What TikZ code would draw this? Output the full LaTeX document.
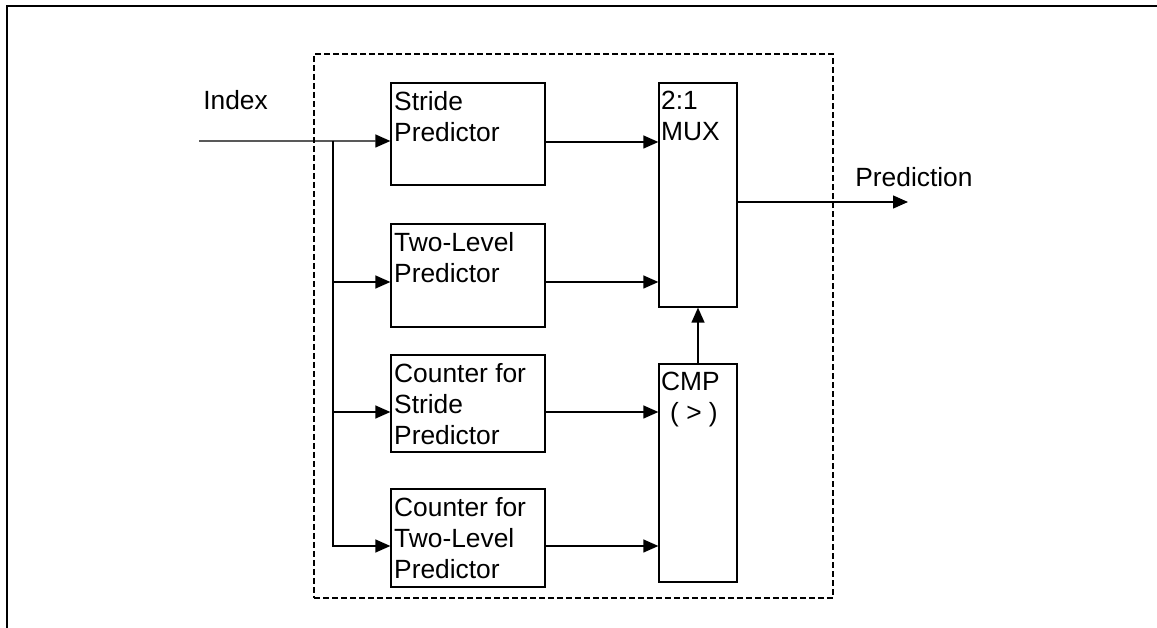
\documentclass[tikz,border=0pt]{standalone}
\usepackage{fontspec}
\setmainfont{Liberation Sans}
\usepackage{tikz}
\usetikzlibrary{arrows.meta, positioning}

\begin{document}
\begin{tikzpicture}[
  x=0.02cm, y=-0.02cm,
  font=\fontsize{15pt}{17.6pt}\selectfont,
  blk/.style={rectangle, draw, line width=0.75pt, minimum width=3.08cm, inner sep=0pt},
  sel/.style={rectangle, draw, line width=0.75pt, minimum width=1.56cm, inner sep=0pt},
  blktext/.style={anchor=north west, align=left, inner xsep=0.07cm, inner ysep=0.17cm},
  group/.style={rectangle, draw, line width=0.75pt, dash pattern=on 0.12cm off 0.06cm, minimum width=10.38cm, minimum height=10.88cm, inner sep=0pt},
  flow/.style={-{Triangle[length=0.3cm, width=0.26cm]}, line width=0.75pt},
  io/.style={anchor=base west, inner sep=0pt}
]
\useasboundingbox (0,0) rectangle (1157,628);

% Frame
\draw[line width=1.2pt] (7,628) -- (7,6) -- (1157,6);

% Nodes
\node[group] (unit) at (573.5,326) {};
\node[blk, minimum height=2.04cm, label={[blktext]north west:Stride\\Predictor}] (stride) at (468,134) {};
\node[blk, minimum height=2.06cm, label={[blktext]north west:Two-Level\\Predictor}] (twolevel) at (468,275.5) {};
\node[blk, minimum height=1.94cm, label={[blktext]north west:Counter for\\Stride\\Predictor}] (cntstride) at (468,403.5) {};
\node[blk, minimum height=1.96cm, label={[blktext]north west:Counter for\\Two-Level\\Predictor}] (cnttwo) at (468,538) {};
\node[sel, minimum height=4.48cm, label={[blktext, inner xsep=0.05cm]north west:2:1\\MUX}] (mux) at (698,195) {};
\node[sel, minimum height=4.36cm, label={[blktext, inner xsep=0.05cm]north west:CMP\\\hspace*{0.18cm}( > )}] (cmp) at (698,473) {};

\node[io] (index) at (203,110) {Index};
\node[io] (pred) at (855,187) {Prediction};

\coordinate (in) at (199,141);
\coordinate (split) at (333,141);
\coordinate (out) at (908,202);

% Flows
\draw[flow] (in) -- ([yshift=-0.14cm]stride.west);
\draw[flow] (split) |- ([yshift=-0.13cm]twolevel.west);
\draw[flow] (split) |- ([yshift=-0.17cm]cntstride.west);
\draw[flow] (split) |- ([yshift=-0.16cm]cnttwo.west);

\draw[flow] ([yshift=-0.16cm]stride.east) -- ([yshift=-0.16cm]stride.east -| mux.west);
\draw[flow] ([yshift=-0.13cm]twolevel.east) -- ([yshift=-0.13cm]twolevel.east -| mux.west);
\draw[flow] ([yshift=-0.17cm]cntstride.east) -- ([yshift=-0.17cm]cntstride.east -| cmp.west);
\draw[flow] ([yshift=-0.16cm]cnttwo.east) -- ([yshift=-0.16cm]cnttwo.east -| cmp.west);

\draw[flow] (cmp.north) -- (mux.south);
\draw[flow] (mux.east |- out) -- (out);

\end{tikzpicture}
\end{document}
